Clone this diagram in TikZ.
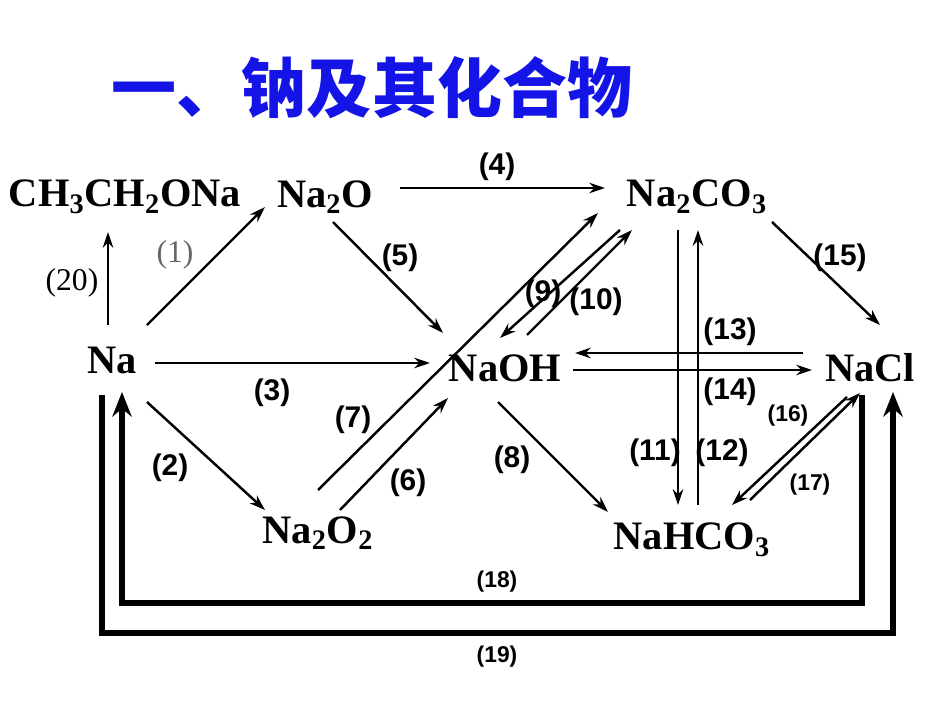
\documentclass[tikz,border=0pt]{standalone}
\usepackage{fontspec}
\setmainfont{Liberation Serif}
\newfontfamily\lsans{Liberation Sans}
\newfontfamily\cjk{Noto Sans CJK SC}
\usetikzlibrary{arrows.meta}
\definecolor{ttl}{RGB}{20,20,230}
\newcommand{\sbx}[1]{\textsubscript{\bfseries #1}}
\begin{document}
\begin{tikzpicture}[x=0.02cm,y=-0.02cm,
 chem/.style={font=\fontsize{23}{26}\selectfont\bfseries,inner sep=0pt},
 lab/.style={font=\lsans\fontsize{17}{19}\selectfont\bfseries,inner sep=0pt},
 slab/.style={font=\lsans\fontsize{13}{15}\selectfont\bfseries,inner sep=0pt},
 plab/.style={font=\fontsize{18}{20}\selectfont,inner sep=0pt},
 ar/.style={-{Stealth[length=9pt,width=6pt]},line width=1.4pt},
 tk/.style={line width=3pt}]
\useasboundingbox (0,0) rectangle (950,713);
\node[font=\cjk\fontsize{37}{40}\selectfont\bfseries,text=ttl] (t) at (372,88) {一、钠及其化合物};
\node[chem] (eth) at (125,197) {CH\sbx{3}CH\sbx{2}ONa};
\node[chem] (na2o) at (325,197) {Na\sbx{2}O};
\node[chem] (na2co3) at (697,197) {Na\sbx{2}CO\sbx{3}};
\node[chem] (na) at (112,360) {Na};
\node[chem] (naoh) at (505,368) {NaOH};
\node[chem] (nacl) at (870,368) {NaCl};
\node[chem] (na2o2) at (318,533) {Na\sbx{2}O\sbx{2}};
\node[chem] (nahco3) at (692,540) {NaHCO\sbx{3}};
\coordinate (a1) at (400,188); \coordinate (a2) at (605,188);
\draw[ar] (a1) -- (a2);
\coordinate (b1) at (108,325); \coordinate (b2) at (108,232);
\draw[ar] (b1) -- (b2);
\coordinate (c1) at (147,325); \coordinate (c2) at (265,207);
\draw[ar] (c1) -- (c2);
\coordinate (d1) at (333,222); \coordinate (d2) at (443,333);
\draw[ar] (d1) -- (d2);
\coordinate (e1) at (155,363); \coordinate (e2) at (430,363);
\draw[ar] (e1) -- (e2);
\coordinate (f1) at (147,402); \coordinate (f2) at (265,510);
\draw[ar] (f1) -- (f2);
\coordinate (g1) at (318,490); \coordinate (g2) at (598,213);
\draw[ar] (g1) -- (g2);
\coordinate (h1) at (340,510); \coordinate (h2) at (448,398);
\draw[ar] (h1) -- (h2);
\coordinate (i1) at (620,230); \coordinate (i2) at (500,338);
\draw[ar] (i1) -- (i2);
\coordinate (j1) at (527,335); \coordinate (j2) at (632,230);
\draw[ar] (j1) -- (j2);
\coordinate (k1) at (803,353); \coordinate (k2) at (575,353);
\draw[ar] (k1) -- (k2);
\coordinate (l1) at (573,370); \coordinate (l2) at (812,370);
\draw[ar] (l1) -- (l2);
\coordinate (m1) at (772,222); \coordinate (m2) at (880,325);
\draw[ar] (m1) -- (m2);
\coordinate (n1) at (498,402); \coordinate (n2) at (608,512);
\draw[ar] (n1) -- (n2);
\coordinate (o1) at (678,230); \coordinate (o2) at (678,505);
\draw[ar] (o1) -- (o2);
\coordinate (p1) at (698,505); \coordinate (p2) at (698,230);
\draw[ar] (p1) -- (p2);
\coordinate (q1) at (750,500); \coordinate (q2) at (860,393);
\draw[ar] (q1) -- (q2);
\coordinate (r1) at (847,397); \coordinate (r2) at (732,505);
\draw[ar] (r1) -- (r2);
\coordinate (s1) at (862,395); \coordinate (s2) at (122,392);
\draw[tk,-{Stealth[length=14pt,width=11pt]}] (s1) -- (862,603) -- (122,603) -- (s2);
\coordinate (u1) at (102,395); \coordinate (u2) at (893,392);
\draw[tk,-{Stealth[length=14pt,width=11pt]}] (u1) -- (102,633) -- (893,633) -- (u2);
\node[lab] (l4) at (497,167) {(4)};
\node[plab] (l20) at (72,283) {(20)};
\node[plab,text=black!60] (l1) at (175,255) {(1)};
\node[lab] (l5) at (400,258) {(5)};
\node[lab] (l3) at (272,393) {(3)};
\node[lab] (l2) at (170,468) {(2)};
\node[lab] (l7) at (353,420) {(7)};
\node[lab] (l6) at (408,483) {(6)};
\node[lab] (l9) at (543,294) {(9)};
\node[lab] (l10) at (596,302) {(10)};
\node[lab] (l13) at (730,332) {(13)};
\node[lab] (l14) at (730,392) {(14)};
\node[lab] (l15) at (840,258) {(15)};
\node[lab] (l8) at (512,460) {(8)};
\node[lab] (l11) at (655,453) {(11)};
\node[lab] (l12) at (722,453) {(12)};
\node[slab] (l16) at (788,416) {(16)};
\node[slab] (l17) at (810,485) {(17)};
\node[slab] (l18) at (497,582) {(18)};
\node[slab] (l19) at (497,657) {(19)};
\end{tikzpicture}
\end{document}
